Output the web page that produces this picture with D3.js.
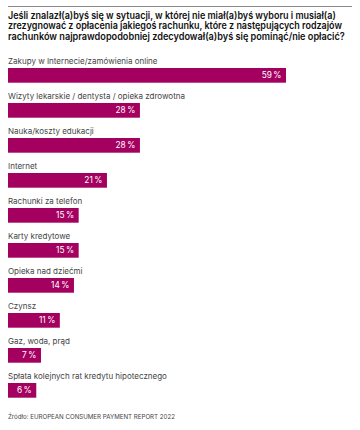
<!DOCTYPE html>
<html>
<head>
<meta charset="utf-8">
<script src="https://cdn.jsdelivr.net/npm/d3@7"></script>
<style>
body { margin: 0; background: #fff; }
svg { display: block; font-family: Inter, "Noto Sans", sans-serif; }
</style>
</head>
<body>
<div id="chart"></div>
<script>
const titleLines = [
	'Jeśli znalazł(a)byś się w sytuacji, w której nie miał(a)byś wyboru i musiał(a)',
	'zrezygnować z opłacenia jakiegoś rachunku, które z następujących rodzajów',
	'rachunków najprawdopodobniej zdecydował(a)byś się pominąć/nie opłacić?'
];
const titleWidths = [328, 334, 337];
const categories = [
	'Zakupy w Internecie/zamówienia online',
	'Wizyty lekarskie / dentysta / opieka zdrowotna',
	'Nauka/koszty edukacji',
	'Internet',
	'Rachunki za telefon',
	'Karty kredytowe',
	'Opieka nad dziećmi',
	'Czynsz',
	'Gaz, woda, prąd',
	'Spłata kolejnych rat kredytu hipotecznego'
];
const values = [59, 28, 28, 21, 15, 15, 14, 11, 7, 6];
const source = 'Źródło: EUROPEAN CONSUMER PAYMENT REPORT 2022';

const w = 360;
const h = 430;
const left = 8;

const svg = d3.select('#chart')
	.append('svg')
	.attr('width', w)
	.attr('height', h);

// squeeze a text horizontally to a given width
function fitWidth(sel, width) {
	sel.each(function (d, i) {
		const target = typeof width === 'function' ? width(d, i) : width;
		const natural = this.getComputedTextLength();
		const x = +this.getAttribute('x');
		const y = +this.getAttribute('y');
		const k = Math.min(1, target / natural);
		d3.select(this)
			.attr('x', 0).attr('y', 0)
			.attr('transform', `translate(${x},${y}) scale(${k},1)`);
	});
}

svg.append('line')
	.attr('x1', 8).attr('x2', 352)
	.attr('y1', 6.5).attr('y2', 6.5)
	.attr('stroke', '#8a8a8a')
	.attr('stroke-width', 1);

svg.selectAll('text.title')
	.data(titleLines)
	.enter()
	.append('text')
	.attr('class', 'title')
	.attr('x', left)
	.attr('y', (d, i) => 18.5 + i * 10.6)
	.attr('font-size', 10)
	.attr('font-weight', 600)
	.attr('fill', '#111')
	.text(d => d)
	.call(fitWidth, (d, i) => titleWidths[i]);

const xScale = d3.scaleLinear().domain([0, 59]).range([0, 278]);
const yScale = d3.scaleBand()
	.domain(categories)
	.range([68, 68 + 35 * categories.length])
	.paddingInner(0)
	.paddingOuter(0);
const barH = 14.7;

const rows = svg.selectAll('g.row')
	.data(categories)
	.enter()
	.append('g')
	.attr('class', 'row')
	.attr('transform', d => `translate(${left}, ${yScale(d)})`);

rows.append('text')
	.attr('x', 0)
	.attr('y', -4)
	.attr('font-size', 8)
	.attr('fill', '#444')
	.text(d => d);

rows.append('rect')
	.attr('x', 0)
	.attr('y', 0)
	.attr('width', (d, i) => xScale(values[i]))
	.attr('height', barH)
	.attr('fill', '#a4005f');

rows.append('text')
	.attr('x', (d, i) => xScale(values[i]) - 4.5)
	.attr('y', barH / 2 + 3)
	.attr('text-anchor', 'end')
	.attr('font-size', 8.3)
	.attr('fill', '#fff')
	.text((d, i) => values[i] + '\u2009%');

svg.append('text')
	.attr('x', left)
	.attr('y', 419)
	.attr('font-size', 6.5)
	.attr('fill', '#444')
	.text(source)
	.call(fitWidth, 167);
</script>
</body>
</html>
